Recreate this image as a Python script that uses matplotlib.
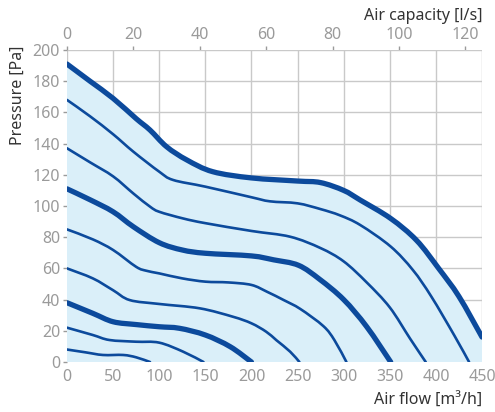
import numpy as np
import matplotlib
matplotlib.use('Agg')
import matplotlib.pyplot as plt
from matplotlib.path import Path
from matplotlib.patches import PathPatch

plt.rcParams['font.family'] = ['Noto Sans', 'DejaVu Sans']

# fan curves: air flow [m3/h] -> pressure [Pa]
c1_x = [0, 25, 50, 75, 90, 108, 130, 158, 200, 250, 275, 300, 318, 351, 379, 403, 425, 450]
c1_y = [191, 180, 169, 156, 148.7, 138, 129.5, 122, 118, 116, 115, 110, 103.8, 92, 78, 60, 42, 16]
c2_x = [0, 25, 50, 72, 100, 115, 150, 200, 220, 250, 275, 296, 318, 351, 375, 395, 420, 436]
c2_y = [168, 157.5, 146, 134.8, 122, 116.7, 112.4, 105.6, 103, 101.7, 98, 94, 87.8, 74, 59, 42, 17, 0]
c3_x = [0, 25, 50, 72, 90, 100, 126, 150, 200, 242, 275, 300, 325, 350, 372, 389]
c3_y = [137, 128, 119, 108, 99.6, 96.3, 92, 89, 84, 80.3, 73, 64.5, 51, 35, 15, 0]
c4_x = [0, 25, 50, 72, 100, 125, 150, 200, 224, 251, 274, 300, 325, 351]
c4_y = [111, 104, 96.3, 86.7, 76.5, 71.8, 69.7, 68, 65.5, 62, 53, 40, 22.6, 0]
c5_x = [0, 28, 50, 75, 86, 100, 125, 150, 175, 200, 217, 235, 253, 278, 290, 303]
c5_y = [85, 78.6, 71.8, 61, 58.5, 56.8, 53.6, 51.5, 51, 49.4, 45, 39.7, 34, 23, 14, 0]
c6_x = [0, 28, 50, 68, 100, 144, 180, 200, 216, 227, 242, 252]
c6_y = [60, 53.6, 46, 39.7, 37.2, 34.4, 29, 24.8, 19.4, 14, 6.6, 0]
c7_x = [0, 28, 50, 75, 100, 122, 150, 177, 200]
c7_y = [38, 31.2, 25.8, 24, 22.6, 21.6, 17.3, 9.8, 0]
c8_x = [0, 28, 46, 75, 100, 126, 148]
c8_y = [22, 17.3, 14.1, 13, 12.4, 6.6, 0]
c9_x = [0, 20, 39, 61, 75, 90]
c9_y = [8, 6.2, 4.5, 4.5, 3, 0]

curves = [(c1_x, c1_y, True), (c2_x, c2_y, False), (c3_x, c3_y, False),
          (c4_x, c4_y, True), (c5_x, c5_y, False), (c6_x, c6_y, False),
          (c7_x, c7_y, True), (c8_x, c8_y, False), (c9_x, c9_y, False)]

flow_ticks = list(range(0, 451, 50))
pressure_ticks = list(range(0, 201, 20))
capacity_ticks = list(range(0, 121, 20))

line_col = '#0c4a9c'
fill_col = '#daeff9'
grid_col = '#c9c9c9'
tick_col = '#9a9a9a'


def smooth_path(xs, ys):
    # catmull-rom through the read points, drawn as bezier segments
    p = np.column_stack([xs, ys]).astype(float)
    q = np.vstack([p[0], p, p[-1]])
    verts = [p[0]]
    codes = [Path.MOVETO]
    for i in range(1, len(q) - 2):
        a = q[i] + (q[i + 1] - q[i - 1]) / 6
        b = q[i + 1] - (q[i + 2] - q[i]) / 6
        verts += [a, b, q[i + 1]]
        codes += [Path.CURVE4] * 3
    return verts, codes


fig = plt.figure(figsize=(4.95, 4.12), dpi=100)
ax = fig.add_axes([67 / 495, 1 - 362 / 412, 415 / 495, 312 / 412])

v, c = smooth_path(c1_x, c1_y)
v = v + [(c1_x[-1], 0), (c1_x[0], 0), (c1_x[0], c1_y[0])]
c = c + [Path.LINETO, Path.LINETO, Path.CLOSEPOLY]
ax.add_patch(PathPatch(Path(v, c), facecolor=fill_col, edgecolor='none', zorder=1))

for xs, ys, thick in curves:
    v, c = smooth_path(xs, ys)
    ax.add_patch(PathPatch(Path(v, c), facecolor='none', edgecolor=line_col,
                           lw=3.8 if thick else 1.9, capstyle='round',
                           joinstyle='round', zorder=3))

ax.set_xlim(0, 450)
ax.set_ylim(0, 200)
ax.set_xticks(flow_ticks)
ax.set_yticks(pressure_ticks)
ax.grid(True, color=grid_col, lw=1, zorder=0)
ax.set_axisbelow(True)
for s in ax.spines.values():
    s.set_visible(False)
ax.tick_params(colors=tick_col, labelsize=11.5, length=3, width=1, pad=2)
ax.tick_params(axis='x', length=0, pad=5)

top = ax.secondary_xaxis('top', functions=(lambda v: v / 3.6, lambda v: v * 3.6))
top.set_xticks(capacity_ticks)
top.tick_params(colors=tick_col, labelsize=11.5, length=3, width=1, pad=2)
top.spines['top'].set_visible(False)

fig.text(482 / 495, 1 - 16 / 412, 'Air capacity [l/s]', ha='right', va='center',
         fontsize=11.5, color='#333333')
fig.text(482 / 495, 1 - 401 / 412, 'Air flow [m\u00b3/h]', ha='right', va='center',
         fontsize=11.5, color='#333333')
fig.text(18 / 495, 1 - 95 / 412, 'Pressure [Pa]', ha='center', va='center',
         rotation=90, fontsize=11.5, color='#333333')

fig.savefig('out.png', dpi=100)
